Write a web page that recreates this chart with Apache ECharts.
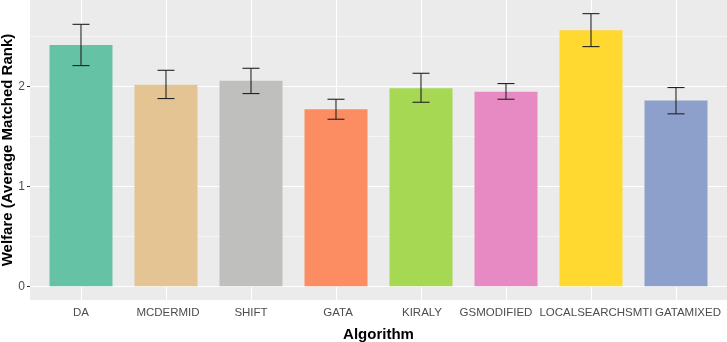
<!DOCTYPE html>
<html>
<head>
<meta charset="utf-8">
<script src="https://cdn.jsdelivr.net/npm/echarts@6/dist/echarts.min.js"></script>
<style>
  html, body { margin: 0; padding: 0; background: #fff; }
  #chart { width: 727px; height: 342px; }
</style>
</head>
<body>
<div id="chart"></div>
<script>
// data
var algorithms = ["DA", "MCDERMID", "SHIFT", "GATA", "KIRALY", "GSMODIFIED", "LOCALSEARCHSMTI", "GATAMIXED"];
var welfare = [2.417, 2.017, 2.057, 1.773, 1.983, 1.947, 2.563, 1.86];
var errLow = [2.21, 1.88, 1.93, 1.673, 1.843, 1.873, 2.4, 1.727];
var errHigh = [2.623, 2.163, 2.183, 1.873, 2.133, 2.03, 2.73, 1.99];
var barColors = ["#66C2A5", "#E5C494", "#BFBFBD", "#FC8D62", "#A6D854", "#E78AC3", "#FFD92F", "#8DA0CB"];
var yTicks = [0, 1, 2];
var yMinor = [0.5, 1.5, 2.5];
var yTitle = "Welfare (Average Matched Rank)";

// horizontal nudge of the tick labels (px), as in the original figure
var labelShift = [0, 2, 0, 2, 1, -10, 5, 12];

var xPos = algorithms.map(function (a, i) { return i + 1; });

var dom = document.getElementById("chart");
var myChart = echarts.init(dom, null, { renderer: "canvas" });

var barData = welfare.map(function (v, i) {
  return { value: [i + 1, v], itemStyle: { color: barColors[i] } };
});
var errData = welfare.map(function (v, i) {
  return [i + 1, errLow[i], errHigh[i]];
});

// grid lines (ggplot style) drawn as markLines under the bars
var gridLines = [];
yTicks.forEach(function (v) { gridLines.push({ yAxis: v, lineStyle: { width: 1.1 } }); });
yMinor.forEach(function (v) { gridLines.push({ yAxis: v, lineStyle: { width: 0.55 } }); });
xPos.forEach(function (v) { gridLines.push({ xAxis: v, lineStyle: { width: 1.1 } }); });

var rich = {};
labelShift.forEach(function (s, i) {
  rich["l" + i] = {
    fontSize: 11.5,
    color: "#4D4D4D",
    padding: s >= 0 ? [0, 0, 0, 2 * s] : [0, -2 * s, 0, 0]
  };
});

var option = {
  animation: false,
  textStyle: { fontFamily: "Liberation Sans, Arial, sans-serif" },
  grid: {
    left: 30,
    right: 0,
    top: 0,
    bottom: 42,
    outerBoundsMode: "none",
    containLabel: false,
    show: true,
    backgroundColor: "#EBEBEB",
    borderWidth: 0
  },
  // y axis title, rotated like ggplot's
  graphic: [
    {
      type: "text",
      x: 8,
      y: 150,
      rotation: Math.PI / 2,
      style: {
        text: yTitle,
        fontSize: 15,
        fontWeight: "bold",
        fontFamily: "Liberation Sans, Arial, sans-serif",
        fill: "#000",
        textAlign: "center",
        textVerticalAlign: "middle"
      }
    }
  ],
  xAxis: {
    type: "value",
    min: 0.4,
    max: 8.6,
    name: "Algorithm",
    nameLocation: "middle",
    nameGap: 27,
    nameTextStyle: { fontSize: 15, fontWeight: "bold", color: "#000" },
    axisLine: { show: false },
    axisTick: {
      show: true,
      length: 3,
      customValues: xPos,
      lineStyle: { color: "#333", width: 1 }
    },
    axisLabel: {
      customValues: xPos,
      interval: 0,
      hideOverlap: false,
      showMinLabel: true,
      showMaxLabel: true,
      fontSize: 11.5,
      color: "#4D4D4D",
      margin: 7,
      rich: rich,
      formatter: function (v) {
        var i = Math.round(v) - 1;
        return "{l" + i + "|" + algorithms[i] + "}";
      }
    },
    splitLine: { show: false }
  },
  yAxis: {
    type: "value",
    min: -0.1365,
    max: 2.8665,
    axisLine: { show: false },
    axisTick: {
      show: true,
      length: 3,
      customValues: yTicks,
      lineStyle: { color: "#333", width: 1 }
    },
    axisLabel: {
      customValues: yTicks,
      fontSize: 12,
      color: "#4D4D4D",
      margin: 5
    },
    splitLine: { show: false }
  },
  series: [
    {
      type: "line",
      data: [],
      silent: true,
      z: 1,
      markLine: {
        silent: true,
        symbol: "none",
        z: 1,
        label: { show: false },
        lineStyle: { color: "#FFFFFF", type: "solid" },
        data: gridLines
      }
    },
    {
      name: "welfare",
      type: "bar",
      data: barData,
      barWidth: 63,
      z: 2
    },
    {
      name: "error",
      type: "custom",
      z: 3,
      data: errData,
      renderItem: function (params, api) {
        var x = api.value(0);
        var lo = api.coord([x, api.value(1)]);
        var hi = api.coord([x, api.value(2)]);
        var half = api.size([0.1, 0])[0];
        var style = { stroke: "#222", lineWidth: 1.1 };
        return {
          type: "group",
          children: [
            { type: "line", shape: { x1: lo[0], y1: lo[1], x2: hi[0], y2: hi[1] }, style: style },
            { type: "line", shape: { x1: lo[0] - half, y1: lo[1], x2: lo[0] + half, y2: lo[1] }, style: style },
            { type: "line", shape: { x1: hi[0] - half, y1: hi[1], x2: hi[0] + half, y2: hi[1] }, style: style }
          ]
        };
      }
    }
  ]
};

myChart.setOption(option);
window.addEventListener("resize", myChart.resize);
</script>
</body>
</html>
